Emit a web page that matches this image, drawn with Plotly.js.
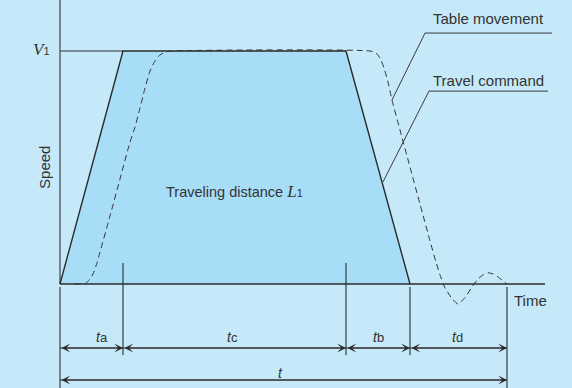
<!DOCTYPE html>
<html>
<head>
<meta charset="utf-8">
<script src="https://cdn.plot.ly/plotly-3.0.1.min.js"></script>
<style>html,body{margin:0;padding:0;background:#c6e9f9;}#chart{width:572px;height:388px;}</style>
</head>
<body>
<div id="chart"></div>
<script>
// ---- data (time units, speed relative to V1) ----
const phaseNames = ['a', 'c', 'b', 'd'];          // ta, tc, tb, td
const phaseDurations = [6.3, 22.3, 6.4, 9.7];
const V1 = 1;
// table movement (dashed, delayed response with overshoot)
const tableTime  = [1.5, 2.0, 2.6, 3.2, 3.7, 4.0, 5.0, 6.0, 7.0, 7.5, 8.0, 8.5, 9.0, 9.5, 10.0, 10.6, 11.2,
                    31.0, 31.6, 32.0, 32.4, 32.8, 33.2, 34.0, 35.0, 36.0, 37.0, 37.6, 38.0, 38.5, 39.2, 39.8,
                    40.5, 41.2, 41.7, 42.3, 42.8, 43.3, 43.8, 44.3, 44.7];
const tableSpeed = [0, 0, 0.004, 0.034, 0.09, 0.137, 0.292, 0.451, 0.609, 0.674, 0.755, 0.841, 0.914, 0.957, 0.983, 0.996, 1,
                    1, 0.991, 0.970, 0.927, 0.867, 0.790, 0.661, 0.502, 0.343, 0.185, 0.094, 0.039, -0.017, -0.062, -0.086,
                    -0.058, -0.013, 0.017, 0.039, 0.048, 0.043, 0.030, 0.013, 0];

// ---- derived boundaries ----
const bounds = [0];
phaseDurations.forEach(d => bounds.push(+(bounds[bounds.length - 1] + d).toFixed(3)));
const tA = bounds[1], tC = bounds[2], tB = bounds[3], tEnd = bounds[4];

// ---- layout geometry ----
const xr = [-6.0, 51.2];
const yr = [-0.4464, 1.2189];
const yTop = yr[1], yBot = yr[0];
const dimY = -0.2747, totY = -0.412, labY = -0.2275, totLabY = -0.382;
const markTop = 0.09, gapY = -0.013;

const dark = '#2b2b2b', grey = '#5e6b73';
const bg = '#c6e9f9', fillC = '#a8ddf8';

function seg(x, y, color, width, dash) {
  return {x: x, y: y, mode: 'lines', type: 'scatter', hoverinfo: 'skip',
          line: {color: color, width: width, dash: dash || 'solid'}, showlegend: false};
}

const traces = [];
traces.push({x: [0, tA, tC, tB], y: [0, V1, V1, 0], type: 'scatter', mode: 'none',
             fill: 'toself', fillcolor: fillC, hoverinfo: 'skip', showlegend: false});
traces.push(seg([0, 0], [yTop, 0], grey, 1.6));
traces.push(seg([0, 0], [gapY, yBot], grey, 1.6));
traces.push(seg([0, tA], [V1, V1], grey, 1.3));
traces.push(seg([0, 48.5], [0, 0], dark, 1.3));
traces.push(seg([0, tA, tC, tB], [0, V1, V1, 0], dark, 1.4));
traces.push({x: tableTime, y: tableSpeed, type: 'scatter', mode: 'lines', hoverinfo: 'skip', showlegend: false,
             line: {color: '#333', width: 1, dash: '6px,4px', shape: 'spline', smoothing: 0.6}});
traces.push(seg([tA, tA], [markTop, -0.305], dark, 1.1));
traces.push(seg([tC, tC], [markTop, -0.305], dark, 1.1));
traces.push(seg([tB, tB], [gapY, -0.305], dark, 1.1));
traces.push(seg([tEnd, tEnd], [gapY, yBot], dark, 1.1));
traces.push(seg([0, tEnd], [dimY, dimY], dark, 1.1));
traces.push(seg([0, tEnd], [totY, totY], dark, 1.1));
traces.push(seg([33.2, 36.5, 49.2], [0.790, 1.077, 1.077], '#3a3a3a', 1));
traces.push(seg([32.3, 36.9, 48.8], [0.438, 0.828, 0.828], '#3a3a3a', 1));

const annotations = [];
const arrowBase = {text: '', showarrow: true, arrowhead: 3, arrowsize: 1.35, arrowwidth: 1.1,
                   arrowcolor: dark, arrowside: 'end+start', axref: 'x', ayref: 'y', xref: 'x', yref: 'y', standoff: 0, startstandoff: 0};
for (let i = 0; i < phaseDurations.length; i++) {
  annotations.push(Object.assign({}, arrowBase, {x: bounds[i + 1], y: dimY, ax: bounds[i], ay: dimY}));
}
annotations.push(Object.assign({}, arrowBase, {x: tEnd, y: totY, ax: 0, ay: totY}));

const labFont = {family: 'Liberation Sans, Arial, sans-serif', size: 14, color: '#333'};
const bigFont = {family: 'Liberation Sans, Arial, sans-serif', size: 15, color: '#333'};
const labOffsets = [1.0, -0.2, 0, -0.1];
for (let i = 0; i < phaseNames.length; i++) {
  annotations.push({x: (bounds[i] + bounds[i + 1]) / 2 + labOffsets[i], y: labY, xref: 'x', yref: 'y', showarrow: false,
    text: '<i>t</i><span style="font-size:13px">' + phaseNames[i] + '</span>', font: labFont});
}
annotations.push({x: tEnd / 2 - 0.3, y: totLabY, xref: 'x', yref: 'y', showarrow: false, text: '<i>t</i>', font: labFont});

annotations.push({x: 48.6, y: 1.1416, xref: 'x', yref: 'y', xanchor: 'right', showarrow: false, text: 'Table movement', font: bigFont});
annotations.push({x: 48.6, y: 0.8755, xref: 'x', yref: 'y', xanchor: 'right', showarrow: false, text: 'Travel command', font: bigFont});
annotations.push({x: 45.2, y: -0.0687, xref: 'x', yref: 'y', xanchor: 'left', showarrow: false, text: 'Time', font: bigFont});
annotations.push({x: -1.5, y: 0.498, xref: 'x', yref: 'y', showarrow: false, text: 'Speed', textangle: -90, font: bigFont});
annotations.push({x: -0.8, y: 1.0086, xref: 'x', yref: 'y', xanchor: 'right', showarrow: false,
  text: '<span style="font-family:Liberation Serif, serif;font-size:17px"><i>V</i></span><span style="font-size:11px">1</span>', font: bigFont});
annotations.push({x: 17.4, y: 0.399, xref: 'x', yref: 'y', showarrow: false,
  text: 'Traveling distance <span style="font-family:Liberation Serif, serif;font-size:17px"><i>L</i></span><span style="font-size:11px">1</span>', font: {family: 'Liberation Sans, Arial, sans-serif', size: 14.5, color: '#333'}});

const layout = {
  width: 572, height: 388,
  margin: {l: 0, r: 0, t: 0, b: 0, pad: 0},
  paper_bgcolor: bg, plot_bgcolor: bg,
  xaxis: {range: xr, visible: false, fixedrange: true},
  yaxis: {range: yr, visible: false, fixedrange: true},
  showlegend: false,
  annotations: annotations
};

Plotly.newPlot('chart', traces, layout, {staticPlot: true, displayModeBar: false});
</script>
</body>
</html>
